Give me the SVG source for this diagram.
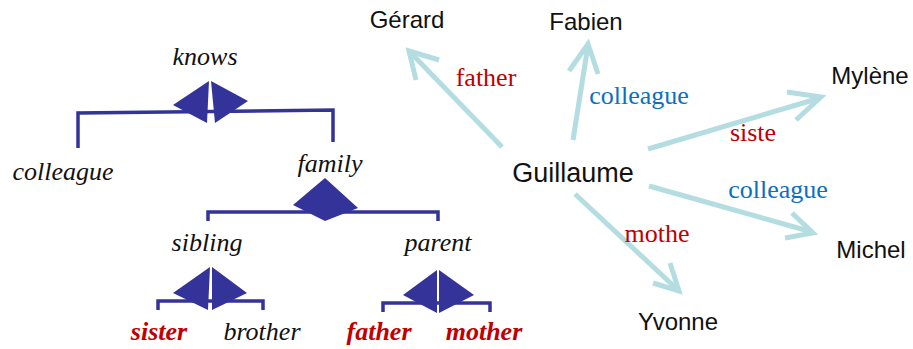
<svg xmlns="http://www.w3.org/2000/svg" width="913" height="349" viewBox="0 0 913 349">
<defs>
<style>
.bar{fill:none;stroke:#333399;stroke-width:3.5;stroke-linejoin:miter}
.dia{fill:#333399}
.it{font-family:"Liberation Serif",serif;font-style:italic;font-size:26px;text-anchor:middle;fill:#111}
.itr{font-family:"Liberation Serif",serif;font-style:italic;font-weight:bold;font-size:26px;text-anchor:middle;fill:#c00000}
.nm{font-family:"Liberation Sans",sans-serif;font-size:24px;fill:#111;text-anchor:middle}
.lb{font-family:"Liberation Serif",serif;font-size:26px;text-anchor:middle}
.red{fill:#c00000}
.blue{fill:#0a70c0}
.edge{fill:none;stroke:#b4dde2;stroke-width:5}
.head{fill:none;stroke:#b4dde2;stroke-width:5;stroke-linejoin:miter;stroke-linecap:butt}
</style>
</defs>
<g id="tree-knows">
<text class="it" x="205" y="65">knows</text>
<path class="bar" d="M78,148 V113 L333,110 V142"/>
<polygon class="dia" points="209,81 207,123 173,105"/>
<polygon class="dia" points="211,81 215,123 248,101"/>
</g>
<g id="node-colleague"><text class="it" x="63" y="180">colleague</text></g>
<g id="tree-family">
<text class="it" x="330" y="172">family</text>
<path class="bar" d="M208,221 V212 H438 V221"/>
<polygon class="dia" points="325,178 358,208 325,221 293,205"/>
</g>
<g id="tree-sibling">
<text class="it" x="207" y="251">sibling</text>
<path class="bar" d="M158,310 V301 H263 V310"/>
<polygon class="dia" points="210,267 208,310 173,293"/>
<polygon class="dia" points="212,267 212,310 247,293"/>
</g>
<g id="tree-parent">
<text class="it" x="438" y="251">parent</text>
<path class="bar" d="M383,312 V303 H490 V312"/>
<polygon class="dia" points="437,270 437,313 403,295"/>
<polygon class="dia" points="439,270 439,313 474,295"/>
</g>
<g id="leaf-sister"><text class="itr" x="159" y="340">sister</text></g>
<g id="leaf-brother"><text class="it" x="262" y="340">brother</text></g>
<g id="leaf-father"><text class="itr" x="379" y="340">father</text></g>
<g id="leaf-mother"><text class="itr" x="484" y="340">mother</text></g>

<g id="connectors">
<line class="edge" x1="502" y1="147" x2="409" y2="51"/>
<polyline class="head" points="416,80 409,51 439,60"/>
<line class="edge" x1="573" y1="140" x2="588" y2="45"/>
<polyline class="head" points="569,71 588,44 598,74"/>
<line class="edge" x1="648" y1="149" x2="820" y2="98"/>
<polyline class="head" points="787,92 821,97 796,120"/>
<line class="edge" x1="649" y1="186" x2="812" y2="232"/>
<polyline class="head" points="792,213 813,233 785,238"/>
<line class="edge" x1="575" y1="194" x2="678" y2="290"/>
<polyline class="head" points="670,263 679,291 653,283"/>
<text class="lb red" x="486" y="86">father</text>
<text class="lb blue" x="639" y="104">colleague</text>
<text class="lb red" x="753" y="141">siste</text>
<text class="lb blue" x="778" y="198">colleague</text>
<text class="lb red" x="657" y="242">mothe</text>
</g>
<g id="node-guillaume"><text class="nm" x="573" y="182" style="font-size:27px">Guillaume</text></g>
<g id="node-gerard"><text class="nm" x="407" y="28">Gérard</text></g>
<g id="node-fabien"><text class="nm" x="586" y="30">Fabien</text></g>
<g id="node-mylene"><text class="nm" x="870" y="84">Mylène</text></g>
<g id="node-michel"><text class="nm" x="871" y="258">Michel</text></g>
<g id="node-yvonne"><text class="nm" x="678" y="330">Yvonne</text></g>
</svg>
